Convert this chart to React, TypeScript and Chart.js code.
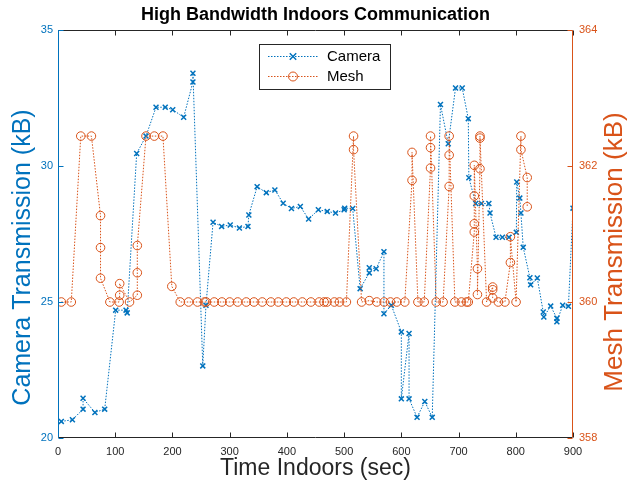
import { useEffect, useRef } from 'react';
import { Chart, registerables } from 'chart.js';

Chart.register(...registerables);

const chartTitle = 'High Bandwidth Indoors Communication';
const xAxisTitle = 'Time Indoors (sec)';
const leftAxisTitle = 'Camera Transmission (kB)';
const rightAxisTitle = 'Mesh Transmission (kB)';
const seriesNames = ['Camera', 'Mesh'];

const xTicks = [0, 100, 200, 300, 400, 500, 600, 700, 800, 900];
const leftTicks = [20, 25, 30, 35];
const rightTicks = [358, 360, 362, 364];

const cameraTime = [
  5.8, 25.2, 43.8, 43.8, 64.5, 81.6, 100.8, 118.9, 120.9, 137.5,
  153.8, 171.3, 187.4, 200.5, 219.6, 235.8, 235.8, 253, 258.6, 271,
  286, 301, 317, 332, 333.5, 348, 364, 379, 393.5, 408,
  423.5, 438, 455, 470.5, 485, 500, 501, 515, 528, 544,
  544, 556, 569.6, 569.6, 582.5, 600, 600, 613.5, 613.5, 627.5,
  641, 654, 668.4, 682, 694.7, 706.4, 717, 718, 730, 740,
  753, 755, 765.5, 776.6, 788, 801, 801.7, 807, 809, 813,
  824.7, 826, 837.6, 848, 849, 861, 871.8, 871.8, 882, 892,
  900,
];
const cameraKB = [
  20.61, 20.67, 21.06, 21.46, 20.94, 21.06, 24.7, 24.7, 24.6, 30.46,
  31.1, 32.16, 32.16, 32.07, 31.79, 33.09, 33.41, 22.65, 24.88, 27.93,
  27.78, 27.83, 27.72, 27.78, 28.2, 29.24, 29.02, 29.12, 28.63, 28.44,
  28.51, 28.05, 28.39, 28.33, 28.27, 28.39, 28.45, 28.44, 25.49, 26.07,
  26.26, 26.22, 26.85, 24.57, 24.88, 23.9, 21.44, 23.84, 21.44, 20.76,
  21.34, 20.76, 32.26, 30.82, 32.87, 32.87, 31.74, 29.57, 28.62, 28.62,
  28.62, 28.27, 27.38, 27.38, 27.38, 27.56, 29.41, 28.82, 28.27, 27.01,
  25.89, 25.63, 25.88, 24.63, 24.45, 24.85, 24.4, 24.27, 24.88, 24.84,
  28.45,
];

const meshTime = [
  5.8, 23.2, 39.8, 58.4, 74.3, 74.3, 74.3, 90.7, 106.8, 107.8,
  107.8, 125, 138.6, 138.6, 138.6, 153.8, 168.3, 183.4, 198.9, 213.6,
  228.2, 243.8, 256, 259, 273, 286.5, 300, 314, 329, 342.4,
  357, 372, 385, 399, 412, 427, 442, 456.5, 465, 470,
  483, 492, 504, 516.5, 516.5, 530.6, 544, 557, 570, 581,
  592, 606, 618.7, 618.7, 629, 640, 651, 651, 651, 661,
  673, 683.6, 683.6, 683.6, 693.6, 705, 714, 717, 727.5, 727.5,
  727.5, 727.5, 733, 733, 737.4, 737.4, 737.4, 749, 759.6, 759.6,
  759.6, 769.6, 781, 790.6, 790.6, 800.5, 809, 809, 820, 820,
];
const meshKB = [
  360, 360, 362.44, 362.44, 361.27, 360.8, 360.35, 360, 360, 360.1,
  360.27, 360, 360.1, 360.43, 360.83, 362.44, 362.44, 362.44, 360.23, 360,
  360, 360, 360, 360, 360, 360, 360, 360, 360, 360,
  360, 360, 360, 360, 360, 360, 360, 360, 360, 360,
  360, 360, 360, 362.44, 362.24, 360, 360.02, 360, 360, 360,
  360, 360, 361.79, 362.2, 360, 360, 361.97, 362.27, 362.44, 360,
  360, 361.7, 362.16, 362.44, 360, 360, 360, 360, 361.03, 361.15,
  361.56, 362.01, 360.49, 360.11, 361.96, 362.41, 362.44, 360, 360.22, 360.18,
  360.06, 360, 360, 360.58, 360.96, 360, 362.44, 362.24, 361.83, 361.4,
];

const BLUE = '#0072BD';
const ORANGE = '#D95319';
const DARK = '#262626';
const FONT = '"Liberation Sans", Arial, Helvetica, sans-serif';

const decorPlugin = {
  id: 'decor',
  afterDatasetsDraw(chart: any) {
    const { ctx, chartArea: a, scales } = chart;
    const L = Math.round(a.left) + 0.5;
    const R = Math.round(a.right) - 0.5;
    const T = Math.round(a.top) + 0.5;
    const B = Math.round(a.bottom) - 0.5;
    const tl = 5;
    ctx.save();
    ctx.lineWidth = 1;
    ctx.setLineDash([]);
    ctx.strokeStyle = DARK;
    ctx.beginPath();
    ctx.moveTo(L, T); ctx.lineTo(R, T);
    ctx.moveTo(L, B); ctx.lineTo(R, B);
    xTicks.forEach((v) => {
      const x = Math.round(scales.x.getPixelForValue(v)) + 0.5;
      ctx.moveTo(x, B); ctx.lineTo(x, B - tl);
      ctx.moveTo(x, T); ctx.lineTo(x, T + tl);
    });
    ctx.stroke();
    ctx.strokeStyle = BLUE;
    ctx.beginPath();
    ctx.moveTo(L, T); ctx.lineTo(L, B);
    leftTicks.forEach((v) => {
      const y = Math.round(scales.y.getPixelForValue(v)) + 0.5;
      ctx.moveTo(L, y); ctx.lineTo(L + tl, y);
    });
    ctx.stroke();
    ctx.strokeStyle = ORANGE;
    ctx.beginPath();
    ctx.moveTo(R, T); ctx.lineTo(R, B);
    rightTicks.forEach((v) => {
      const y = Math.round(scales.y1.getPixelForValue(v)) + 0.5;
      ctx.moveTo(R, y); ctx.lineTo(R - tl, y);
    });
    ctx.stroke();
    ctx.restore();
  },
  afterDraw(chart: any) {
    const { ctx } = chart;
    ctx.save();
    ctx.textAlign = 'center';
    ctx.textBaseline = 'alphabetic';
    ctx.fillStyle = BLUE;
    ctx.font = `25px ${FONT}`;
    ctx.translate(29.5, 257.5);
    ctx.rotate(-Math.PI / 2);
    ctx.fillText(leftAxisTitle, 0, 0);
    ctx.restore();

    ctx.save();
    ctx.textAlign = 'center';
    ctx.textBaseline = 'alphabetic';
    ctx.fillStyle = ORANGE;
    ctx.font = `26px ${FONT}`;
    ctx.translate(622, 252);
    ctx.rotate(-Math.PI / 2);
    ctx.fillText(rightAxisTitle, 0, 0);
    ctx.restore();

    ctx.save();
    const bx = 259.5, by = 44.5, bw = 131, bh = 45;
    ctx.fillStyle = '#ffffff';
    ctx.fillRect(bx, by, bw, bh);
    ctx.strokeStyle = DARK;
    ctx.lineWidth = 1;
    ctx.strokeRect(bx, by, bw, bh);
    const rows = [56.5, 76.5];
    const colors = [BLUE, ORANGE];
    rows.forEach((y, i) => {
      ctx.strokeStyle = colors[i];
      ctx.lineWidth = 1;
      ctx.setLineDash([1.5, 1.5]);
      ctx.beginPath();
      ctx.moveTo(268, y); ctx.lineTo(318, y);
      ctx.stroke();
      ctx.setLineDash([]);
      const mx = 293;
      ctx.beginPath();
      if (i === 0) {
        ctx.lineWidth = 1.5;
        const r = 3.2;
        ctx.moveTo(mx - r, y - r); ctx.lineTo(mx + r, y + r);
        ctx.moveTo(mx - r, y + r); ctx.lineTo(mx + r, y - r);
      } else {
        ctx.lineWidth = 1;
        ctx.arc(mx, y, 4.5, 0, Math.PI * 2);
      }
      ctx.stroke();
      ctx.fillStyle = '#000';
      ctx.font = `15px ${FONT}`;
      ctx.textAlign = 'left';
      ctx.textBaseline = 'middle';
      ctx.fillText(seriesNames[i], 327, y + 0.5);
    });
    ctx.restore();
  },
};

export default function App() {
  const ref = useRef<HTMLCanvasElement | null>(null);
  useEffect(() => {
    if (!ref.current) return;
    const cam = cameraTime.map((t, i) => ({ x: t, y: cameraKB[i] }));
    const mesh = meshTime.map((t, i) => ({ x: t, y: meshKB[i] }));
    const chart = new Chart(ref.current, {
      type: 'line',
      data: {
        datasets: [
          {
            label: seriesNames[0],
            data: cam,
            yAxisID: 'y',
            borderColor: BLUE,
            borderWidth: 1,
            borderDash: [1.5, 1.5],
            pointStyle: 'crossRot',
            pointRadius: 3.5,
            pointBorderWidth: 1.5,
            pointBorderColor: BLUE,
            pointBackgroundColor: BLUE,
            tension: 0,
            fill: false,
            order: 1,
          },
          {
            label: seriesNames[1],
            data: mesh,
            yAxisID: 'y1',
            borderColor: ORANGE,
            borderWidth: 1,
            borderDash: [1.5, 1.5],
            pointStyle: 'circle',
            pointRadius: 4.3,
            pointBorderWidth: 1,
            pointBorderColor: ORANGE,
            pointBackgroundColor: 'rgba(0,0,0,0)',
            tension: 0,
            fill: false,
            order: 0,
          },
        ],
      },
      options: {
        responsive: false,
        animation: false,
        devicePixelRatio: 1,
        parsing: false as any,
        layout: { padding: 0 },
        plugins: {
          legend: { display: false },
          tooltip: { enabled: false },
          title: {
            display: true,
            text: chartTitle,
            color: '#000',
            font: { family: FONT, size: 18, weight: 'bold' },
            padding: { top: 4, bottom: 4.4 },
          },
        },
        scales: {
          x: {
            type: 'linear',
            position: 'bottom',
            min: 0,
            max: 900,
            grid: { display: false, drawTicks: false },
            border: { display: false },
            afterBuildTicks: (s: any) => { s.ticks = xTicks.map((v) => ({ value: v })); },
            afterFit: (s: any) => { s.height = 47; },
            ticks: {
              color: DARK,
              font: { family: FONT, size: 11 },
              padding: 7,
              maxRotation: 0,
              autoSkip: false,
            },
            title: {
              display: true,
              text: xAxisTitle,
              color: DARK,
              font: { family: FONT, size: 23 },
              padding: { top: 0, bottom: 3 },
            },
          },
          y: {
            type: 'linear',
            position: 'left',
            min: 20,
            max: 35,
            grid: { display: false, drawTicks: false },
            border: { display: false },
            afterBuildTicks: (s: any) => { s.ticks = leftTicks.map((v) => ({ value: v })); },
            afterFit: (s: any) => { s.width = 58; },
            ticks: { color: BLUE, font: { family: FONT, size: 11 }, padding: 5, autoSkip: false },
          },
          y1: {
            type: 'linear',
            position: 'right',
            min: 358,
            max: 364,
            grid: { display: false, drawTicks: false },
            border: { display: false },
            afterBuildTicks: (s: any) => { s.ticks = rightTicks.map((v) => ({ value: v })); },
            afterFit: (s: any) => { s.width = 58; },
            ticks: { color: ORANGE, font: { family: FONT, size: 11 }, padding: 6, autoSkip: false },
          },
        },
      },
      plugins: [decorPlugin],
    });
    return () => chart.destroy();
  }, []);
  return (
    <div style={{ position: 'absolute', left: 0, top: 0, width: 631, height: 485, background: '#fff' }}>
      <canvas ref={ref} width={631} height={485} style={{ width: 631, height: 485, display: 'block' }} />
    </div>
  );
}
